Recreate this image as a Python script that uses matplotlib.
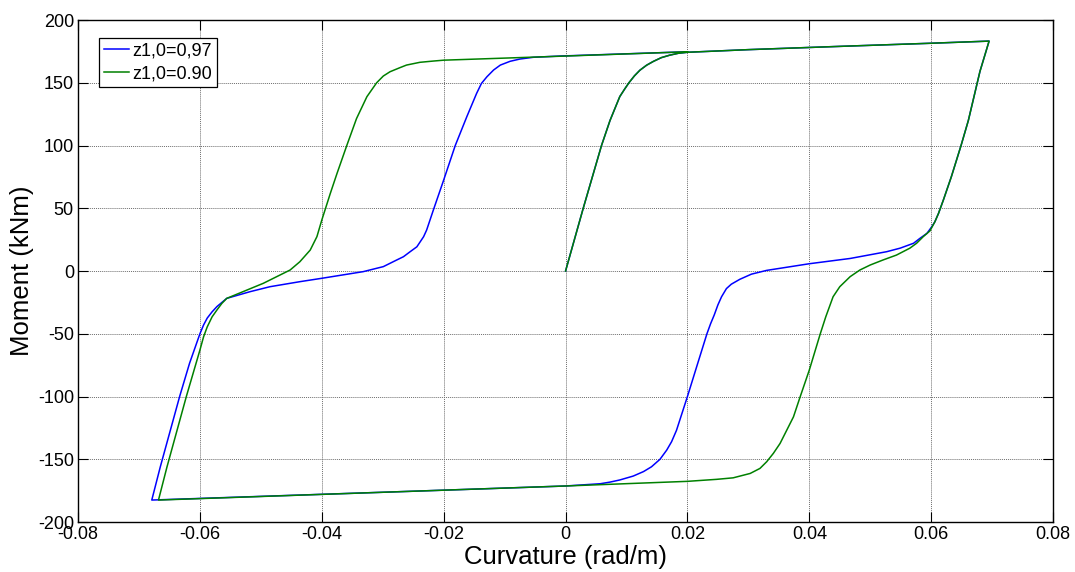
import matplotlib
matplotlib.use("Agg")
import matplotlib.pyplot as plt

plt.rcParams["font.family"] = ["Liberation Sans", "DejaVu Sans"]
plt.rcParams["axes.unicode_minus"] = False

# moment-curvature path, z1,0 = 0.97 (curvature rad/m, moment kNm)
curv_097 = [0.0, 0.0029, 0.0059, 0.0073, 0.0089, 0.0097, 0.0104, 0.0113, 0.0122, 0.0133,
            0.0144, 0.0157, 0.0171, 0.0185, 0.020,
            0.030, 0.045, 0.060, 0.0695,
            0.068, 0.0661, 0.0649, 0.0633, 0.062, 0.0612, 0.0606, 0.0601, 0.0593,
            0.0582, 0.0571, 0.0549, 0.0527, 0.0467, 0.040, 0.033, 0.0305, 0.0286, 0.0272,
            0.0264, 0.0256, 0.0250, 0.0244, 0.0238, 0.0232,
            0.0215, 0.020, 0.0182, 0.0174, 0.0166, 0.0155, 0.0141, 0.0128, 0.0111, 0.0089,
            0.0073, 0.0057, 0.0,
            -0.030, -0.0679,
            -0.0665, -0.0633, -0.0617, -0.060, -0.0594, -0.0588, -0.0580, -0.0572, -0.0556,
            -0.0518, -0.0485, -0.0436, -0.040, -0.0332, -0.0299, -0.0277, -0.0266, -0.0255,
            -0.0244, -0.0233, -0.0228, -0.0217,
            -0.020, -0.0181, -0.0162, -0.0146, -0.0138, -0.0129, -0.0118, -0.0107, -0.0091,
            -0.0075, -0.0053, -0.0009, 0.020]
mom_097 = [0.0, 50, 100, 120, 139, 145, 150, 155.5, 160, 164,
           167, 170, 172, 173.5, 174.3,
           176.4, 179, 181.5, 183.2,
           159, 120, 100, 75, 56.6, 45.9, 39.2, 35.3, 30,
           26.2, 22.1, 18.2, 15.4, 10, 5.8, 0.5, -2.5, -6.6, -10.5,
           -14, -20.5, -27, -35, -42, -50,
           -76.5, -100, -127, -136, -142.7, -150, -156, -159.8, -163.4, -166.5,
           -168.2, -169.5, -171.3,
           -176.3, -182.5,
           -156, -99.5, -73.5, -50, -43, -37.5, -32.5, -28.3, -21.8,
           -16.5, -12.5, -8.5, -5.8, -0.5, 3.5, 8.8, 11.4, 15.4,
           19.3, 27.3, 32.6, 48.5,
           72.5, 100, 123, 141.5, 149.5, 154.8, 160.2, 164.1, 167.1,
           168.9, 170.3, 171.3, 174.7]

# moment-curvature path, z1,0 = 0.90
curv_090 = [0.0, 0.0029, 0.0059, 0.0073, 0.0089, 0.0097, 0.0104, 0.0113, 0.0122, 0.0133,
            0.0144, 0.0157, 0.0171, 0.0185, 0.020,
            0.030, 0.045, 0.060, 0.0695,
            0.068, 0.0661, 0.0649, 0.0633, 0.062, 0.0612, 0.0606, 0.0598,
            0.0587, 0.0576, 0.0565, 0.0543, 0.0521, 0.050, 0.0483, 0.0467, 0.045, 0.0439,
            0.0427, 0.0418, 0.040, 0.0385,
            0.0374, 0.0363, 0.0352, 0.0341, 0.033, 0.0319, 0.0303, 0.0275, 0.0248, 0.020, 0.0,
            -0.030, -0.0668,
            -0.0654, -0.0622, -0.060, -0.0594, -0.0588, -0.0580, -0.0572, -0.0564, -0.0556,
            -0.0523, -0.0496, -0.0452, -0.0436, -0.0419, -0.0408, -0.040, -0.0386, -0.0375,
            -0.0359, -0.0343, -0.0326, -0.031, -0.0299, -0.0288, -0.0272, -0.0261, -0.0239,
            -0.0217, -0.020, 0.0, 0.020]
mom_090 = [0.0, 50, 100, 120, 139, 145, 150, 155.5, 160, 164,
           167, 170, 172, 173.5, 174.3,
           176.4, 179, 181.5, 183.2,
           159, 120, 100, 75, 56.6, 45.9, 39.2, 32,
           27.4, 22.1, 18.2, 12.7, 8.8, 4.8, 0.8, -4.5, -12.5, -20.5,
           -36.5, -50, -78.9, -100.2,
           -116.2, -126.8, -137.4, -145.3, -152, -157.3, -161.3, -164.8, -166, -167.6, -171.3,
           -176.3, -182.5,
           -156, -99.5, -63, -52.4, -44.5, -36.5, -31, -25.8, -21.8,
           -15.2, -9.8, 0.8, 7.4, 16.7, 27.4, 40.6, 61.9, 77.8,
           100, 121.5, 138.9, 150, 155.4, 158.8, 162, 164.1, 166.3,
           167.3, 168, 171.3, 174.7]

series_labels = ["z1,0=0,97", "z1,0=0.90"]

fig = plt.figure(figsize=(10.75, 5.72), dpi=100)
ax = fig.add_axes([0.0726, 0.0874, 0.907, 0.8776])

ax.plot(curv_097, mom_097, color=(0, 0, 1), lw=1.1, label=series_labels[0])
ax.plot(curv_090, mom_090, color=(0, 0.5, 0), lw=1.1, label=series_labels[1])

ax.set_xlim(-0.08, 0.08)
ax.set_ylim(-200, 200)
ax.set_xticks([-0.08, -0.06, -0.04, -0.02, 0, 0.02, 0.04, 0.06, 0.08])
ax.set_xticklabels(["-0.08", "-0.06", "-0.04", "-0.02", "0", "0.02", "0.04", "0.06", "0.08"])
ax.set_yticks(range(-200, 201, 50))

ax.grid(True, color="#6e6e6e", linestyle=(0, (1, 1)), lw=0.7)
ax.tick_params(direction="in", top=True, right=True, length=7, width=0.8,
               labelsize=13, pad=3)
for s in ax.spines.values():
    s.set_linewidth(1.0)

ax.set_xlabel("Curvature (rad/m)", fontsize=18.5, labelpad=1)
ax.set_ylabel("Moment (kNm)", fontsize=18.5, labelpad=3)

leg = ax.legend(loc="upper left", bbox_to_anchor=(0.0215, 0.964), borderaxespad=0,
                fancybox=False, framealpha=1, edgecolor="black", fontsize=13,
                handlelength=1.4, handletextpad=0.2, borderpad=0.25, labelspacing=0.3)
leg.get_frame().set_linewidth(0.9)

plt.savefig("out.png", dpi=100)
